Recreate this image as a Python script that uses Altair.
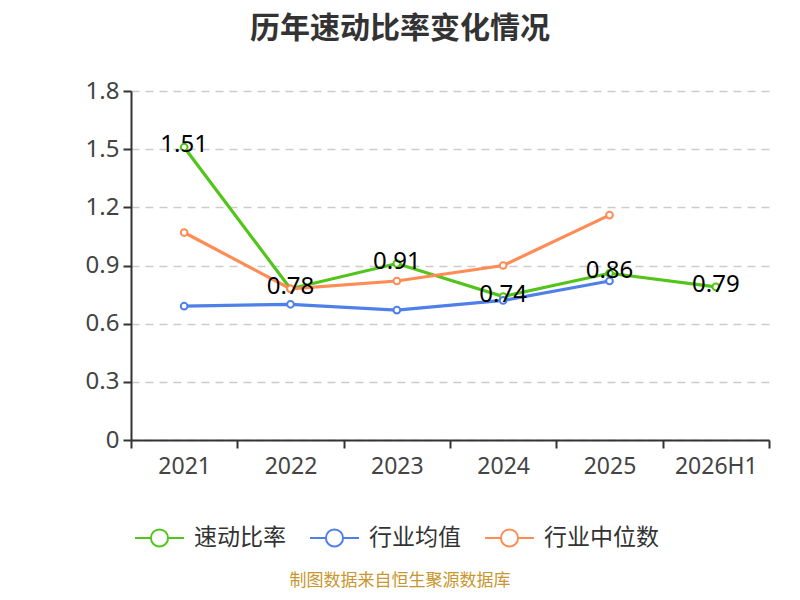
import altair as alt
import pandas as pd

years = ["2021", "2022", "2023", "2024", "2025", "2026H1"]
quick_ratio = [1.51, 0.78, 0.91, 0.74, 0.86, 0.79]
industry_avg = [0.69, 0.70, 0.67, 0.72, 0.82]
industry_median = [1.07, 0.78, 0.82, 0.90, 1.16]
series_names = ["速动比率", "行业均值", "行业中位数"]
series_colors = ["#52C41A", "#4F80E9", "#FF8C55"]
y_ticks = [0, 0.3, 0.6, 0.9, 1.2, 1.5, 1.8]

rows = []
for name, vals in zip(series_names, [quick_ratio, industry_avg, industry_median]):
    for i, v in enumerate(vals):
        rows.append({"year": years[i], "series": name, "value": v, "order": series_names.index(name)})
df = pd.DataFrame(rows)
main_df = df[df["series"] == "速动比率"]

CJK = "Noto Sans CJK SC"
NUM = "Noto Sans"

legend_symbol = "M-1,0L-0.35,0M0.35,0L1,0M0.35,0A0.35,0.35,0,1,1,-0.35,0A0.35,0.35,0,1,1,0.35,0"

x_enc = alt.X("year:N", sort=years,
              scale=alt.Scale(type="band", domain=years, paddingInner=0, paddingOuter=0),
              axis=alt.Axis(title=None, tickBand="extent", labelAngle=0, labelFont=NUM,
                            labelFontSize=23, labelColor="#444444", labelPadding=7,
                            domainColor="#333333", domainWidth=2, tickColor="#333333",
                            tickWidth=2, tickSize=8, grid=False))
y_enc = alt.Y("value:Q",
              scale=alt.Scale(domain=[0, 1.8], nice=False, zero=True),
              axis=alt.Axis(title=None, values=y_ticks, format=".1~f", labelFont=NUM,
                            labelFontSize=24, labelColor="#444444", labelPadding=4,
                            domainColor="#333333", domainWidth=2, tickColor="#333333",
                            tickWidth=2, tickSize=8, grid=True, gridColor="#CCCCCC",
                            gridDash=[8, 6], gridWidth=1.5))
color_enc = alt.Stroke("series:N",
                       scale=alt.Scale(domain=series_names, range=series_colors),
                       legend=alt.Legend(title=None, orient="none", direction="horizontal",
                                         legendX=3, legendY=421, symbolType=legend_symbol,
                                         symbolSize=2401, symbolStrokeWidth=2,
                                         symbolFillColor="white", labelFont=CJK,
                                         labelFontSize=23, labelColor="#333333",
                                         labelOffset=9, columnPadding=20, padding=0))

base = alt.Chart(df)
lines = base.mark_line(strokeWidth=3.2).encode(
    x=x_enc, y=y_enc, stroke=color_enc, order=alt.Order("order:Q"))
points = base.mark_point(filled=True, size=45, strokeWidth=2, opacity=1).encode(
    x=alt.X("year:N", sort=years), y="value:Q",
    stroke=alt.Stroke("series:N", legend=None),
    fill=alt.value("white"))
labels = alt.Chart(main_df).mark_text(font=NUM, fontSize=24, color="#000000",
                                      baseline="middle", dy=-2).encode(
    x=alt.X("year:N", sort=years), y="value:Q",
    text=alt.Text("value:Q", format=".2f"))
source = alt.Chart(pd.DataFrame({"t": ["制图数据来自恒生聚源数据库"]})).mark_text(
    font=CJK, fontSize=17, color="#C8962E", baseline="middle", align="center").encode(
    x=alt.value(269), y=alt.value(490), text="t:N")

chart = alt.layer(lines, points, labels, source).properties(
    width=638, height=349,
    autosize=alt.AutoSizeParams(type="none"),
    padding={"left": 123, "top": 83, "right": 23, "bottom": 152},
    title=alt.TitleParams("历年速动比率变化情况", font=CJK, fontSize=30, fontWeight="bold",
                          color="#333333", anchor="middle", dx=-50, offset=20,
                          baseline="middle"),
).configure_view(stroke=None)

chart.save("out.html", embed_options={"renderer": "svg", "actions": False})
